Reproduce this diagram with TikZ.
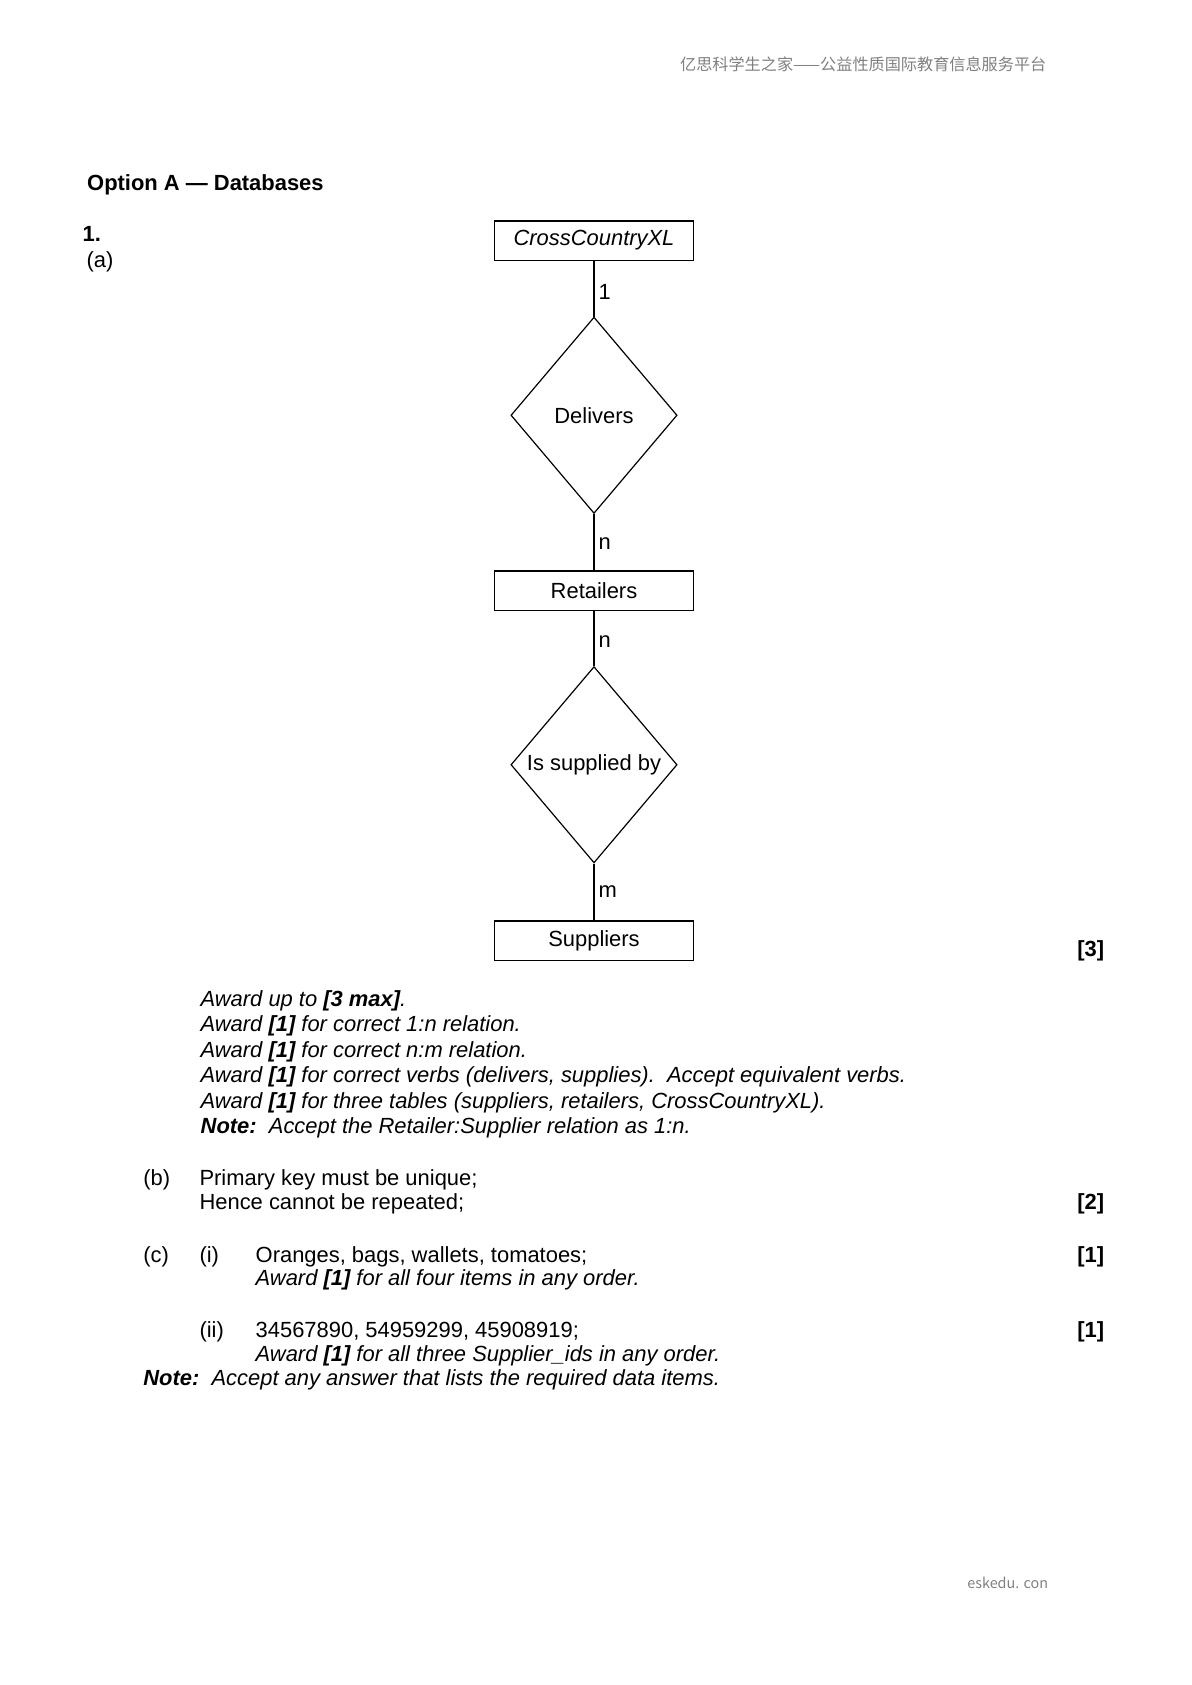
\documentclass[tikz,border=0pt]{standalone}
\usepackage{fontspec}
\setmainfont{Liberation Sans}
\newfontfamily\cjk{Noto Sans CJK SC}
\usetikzlibrary{shapes.geometric}

\tikzset{
  entity/.style={draw,line width=0.6pt,rectangle,minimum width=3.51cm,minimum height=0.69cm,inner sep=0pt},
  relation/.style={draw,line width=0.6pt,diamond,minimum width=2.93cm,minimum height=3.46cm,inner sep=0pt},
  card/.style={right,inner sep=2pt},
  txt/.style={anchor=base west,inner sep=0pt},
  score/.style={anchor=base east,inner sep=0pt,font=\bfseries},
  site/.style={anchor=east,inner sep=0pt,text=gray,font=\cjk\fontsize{8.1}{10}\selectfont}
}

\begin{document}
\fontsize{11}{13}\selectfont
\begin{tikzpicture}

\useasboundingbox (0,0) rectangle (21,29.7);

%header and footer
\node[site] (head) at (18.45,28.56) {亿思科学生之家——公益性质国际教育信息服务平台};
\node[site,font=\cjk\fontsize{7.2}{9}\selectfont] (foot) at (18.48,1.80) {eskedu. con};

%heading
\node[txt,font=\bfseries] (opt) at (1.53,26.34) {Option A — Databases};
\node[txt,font=\bfseries] (q1) at (1.45,25.45) {1.};
\node[txt] (qa) at (1.52,24.98) {(a)};

%ER diagram
\node[entity,font=\itshape] (ccxl) at (10.47,25.46) {CrossCountryXL};
\node[relation,label=center:Delivers] (deliv) at (10.47,22.38) {};
\node[entity] (retail) at (10.47,19.29) {Retailers};
\node[relation,label=center:{Is supplied by}] (supby) at (10.47,16.22) {};
\node[entity] (suppl) at (10.47,13.12) {Suppliers};

\draw[line width=0.6pt] (ccxl) -- node[card,pos=0.56] {1} (deliv);
\draw[line width=0.6pt] (deliv) -- node[card,pos=0.52] {n} (retail);
\draw[line width=0.6pt] (retail) -- node[card,pos=0.56] {n} (supby);
\draw[line width=0.6pt] (supby) -- node[card,pos=0.49] {m} (suppl);

\node[score] (s3) at (19.47,12.84) {[3]};

%marking notes
\node[txt,font=\itshape] (aw1) at (3.53,11.96) {Award up to \textbf{[3 max]}.};
\node[txt,font=\itshape] (aw2) at (3.53,11.51) {Award \textbf{[1]} for correct 1:n relation.};
\node[txt,font=\itshape] (aw3) at (3.53,11.06) {Award \textbf{[1]} for correct n:m relation.};
\node[txt,font=\itshape] (aw4) at (3.53,10.62) {Award \textbf{[1]} for correct verbs (delivers, supplies).\ \ Accept equivalent verbs.};
\node[txt,font=\itshape] (aw5) at (3.53,10.17) {Award \textbf{[1]} for three tables (suppliers, retailers, CrossCountryXL).};
\node[txt,font=\itshape] (aw6) at (3.53,9.72) {\textbf{Note:}\ \ Accept the Retailer:Supplier relation as 1:n.};

%part b
\node[txt] (qb) at (2.52,8.80) {(b)};
\node[txt] (b1) at (3.51,8.80) {Primary key must be unique;};
\node[txt] (b2) at (3.51,8.38) {Hence cannot be repeated;};
\node[score] (s2) at (19.47,8.38) {[2]};

%part c
\node[txt] (qc) at (2.52,7.45) {(c)};
\node[txt] (ci) at (3.51,7.45) {(i)};
\node[txt] (c1) at (4.50,7.45) {Oranges, bags, wallets, tomatoes;};
\node[txt,font=\itshape] (c1n) at (4.50,7.04) {Award \textbf{[1]} for all four items in any order.};
\node[score] (s1a) at (19.47,7.45) {[1]};

\node[txt] (cii) at (3.51,6.12) {(ii)};
\node[txt] (c2) at (4.50,6.12) {34567890, 54959299, 45908919;};
\node[txt,font=\itshape] (c2n) at (4.50,5.70) {Award \textbf{[1]} for all three Supplier\_ids in any order.};
\node[score] (s1b) at (19.47,6.12) {[1]};
\node[txt,font=\itshape] (cnote) at (2.52,5.28) {\textbf{Note:}\ \ Accept any answer that lists the required data items.};

\end{tikzpicture}
\end{document}
